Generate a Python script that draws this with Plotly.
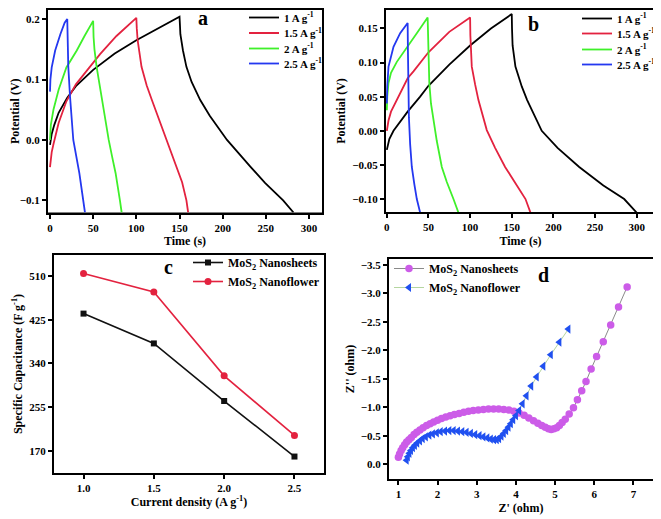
import plotly.graph_objects as go

# The page body has an 8px margin, so the figure is drawn 8px smaller and
# reference pixel positions are shifted by 8px.
OFF = 8
W, H = 661 - OFF, 519 - OFF

# ---------------- Panel a data (GCD) ----------------
a_t_1 = [0, 2, 5, 10, 20, 30, 50, 75, 100, 125, 150, 150.5, 151, 154, 158, 164, 174, 185, 205, 232, 249, 270, 282]
a_v_1 = [-0.008, 0.01, 0.025, 0.045, 0.07, 0.089, 0.116, 0.143, 0.165, 0.185, 0.204, 0.19, 0.175, 0.148, 0.121, 0.096, 0.066, 0.04, 0.0, -0.044, -0.071, -0.1, -0.12]
a_t_15 = [0, 2, 4, 10, 19, 30, 39, 50, 58, 77, 100, 100.5, 101.5, 106, 112, 118, 126, 135, 147, 153, 158, 160]
a_v_15 = [-0.045, -0.02, -0.007, 0.028, 0.064, 0.092, 0.108, 0.128, 0.142, 0.172, 0.202, 0.185, 0.165, 0.121, 0.09, 0.066, 0.035, 0.0, -0.044, -0.07, -0.1, -0.12]
a_t_2 = [0, 1, 4, 10, 19, 31, 40, 50, 50.5, 51.5, 54, 60, 64, 68, 72, 76, 81, 83]
a_v_2 = [0.0, 0.025, 0.05, 0.083, 0.12, 0.148, 0.172, 0.197, 0.17, 0.15, 0.121, 0.066, 0.032, 0.0, -0.028, -0.055, -0.1, -0.12]
a_t_25 = [0, 0.5, 2, 6, 12, 17, 20, 20.5, 21.2, 23.2, 27, 34, 38.6, 40.5]
a_v_25 = [0.08, 0.1, 0.12, 0.148, 0.175, 0.194, 0.2, 0.16, 0.121, 0.072, 0.0, -0.055, -0.1, -0.12]

# ---------------- Panel b data ----------------
b_t_1 = [0, 3, 8, 15, 25, 40, 50, 75, 100, 125, 150, 150.3, 151, 154.4, 162, 168.5, 178, 186, 205, 231, 260, 285, 300]
b_v_1 = [-0.028, -0.012, 0.0, 0.012, 0.028, 0.05, 0.066, 0.097, 0.125, 0.15, 0.171, 0.15, 0.125, 0.094, 0.065, 0.045, 0.02, 0.0, -0.025, -0.053, -0.08, -0.1, -0.12]
b_t_15 = [0, 2, 5, 12, 25, 32, 50, 75, 100, 100.3, 101, 102, 106, 110, 120, 130, 142, 155, 166.5, 172.5]
b_v_15 = [0.0, 0.015, 0.028, 0.045, 0.077, 0.087, 0.115, 0.145, 0.166, 0.14, 0.118, 0.094, 0.068, 0.045, 0.001, -0.025, -0.053, -0.078, -0.1, -0.12]
b_t_2 = [0, 0.5, 2, 5, 12, 25, 36, 49, 49.3, 50, 51, 53, 56, 60, 66, 72, 80, 86]
b_v_2 = [0.03, 0.05, 0.07, 0.085, 0.101, 0.123, 0.143, 0.166, 0.14, 0.1, 0.07, 0.04, 0.015, -0.015, -0.053, -0.075, -0.1, -0.12]
b_t_25 = [0, 0.5, 2, 8, 16, 25, 25.3, 25.8, 26.5, 28, 30, 33, 36, 40]
b_v_25 = [0.04, 0.065, 0.094, 0.123, 0.143, 0.158, 0.12, 0.06, 0.02, -0.02, -0.053, -0.078, -0.1, -0.12]

gcd_names = ["1 A g<sup>-1</sup>", "1.5 A g<sup>-1</sup>", "2 A g<sup>-1</sup>", "2.5 A g<sup>-1</sup>"]
gcd_colors = ["#000000", "#e3223f", "#3ff02a", "#2438f0"]

# ---------------- Panel c data ----------------
c_current = [1.0, 1.5, 2.0, 2.5]
c_sheets = [437, 379, 267, 159]
c_flower = [515, 479, 316, 200]

# ---------------- Panel d data (Nyquist) ----------------
d_sheets_x = [1.00, 1.03, 1.07, 1.11, 1.16, 1.21, 1.27, 1.33, 1.40, 1.47, 1.55, 1.63, 1.72, 1.81, 1.90,
              2.00, 2.10, 2.21, 2.32, 2.43, 2.55, 2.67, 2.79, 2.91, 3.04, 3.17, 3.30, 3.43, 3.56, 3.69,
              3.82, 3.95, 4.08, 4.21, 4.33, 4.45, 4.56, 4.66, 4.75, 4.83, 4.90, 4.97, 5.04, 5.11, 5.18,
              5.26, 5.36, 5.47, 5.57, 5.68, 5.79, 5.92, 6.06, 6.23, 6.42, 6.62, 6.84]
d_sheets_y = [-0.12, -0.18, -0.24, -0.29, -0.34, -0.39, -0.43, -0.47, -0.52, -0.56, -0.60, -0.64, -0.68, -0.71, -0.74,
              -0.77, -0.80, -0.83, -0.85, -0.87, -0.89, -0.91, -0.93, -0.94, -0.95, -0.96, -0.97, -0.97, -0.97, -0.96,
              -0.95, -0.93, -0.90, -0.86, -0.81, -0.76, -0.72, -0.68, -0.65, -0.62, -0.61, -0.62, -0.64, -0.68, -0.73,
              -0.79, -0.88, -0.99, -1.13, -1.29, -1.45, -1.67, -1.89, -2.15, -2.44, -2.76, -3.11]
d_flower_x = [1.21, 1.24, 1.28, 1.32, 1.37, 1.42, 1.48, 1.55, 1.62, 1.70, 1.79, 1.88, 1.98, 2.08, 2.19,
              2.30, 2.41, 2.52, 2.63, 2.74, 2.85, 2.96, 3.07, 3.17, 3.27, 3.36, 3.44, 3.51, 3.57, 3.63,
              3.69, 3.75, 3.81, 3.87, 3.93, 4.00, 4.08, 4.17, 4.27, 4.39, 4.53, 4.70, 4.89, 5.11, 5.34]
d_flower_y = [-0.07, -0.13, -0.19, -0.24, -0.29, -0.33, -0.37, -0.41, -0.45, -0.48, -0.51, -0.53, -0.55, -0.57, -0.58,
              -0.59, -0.59, -0.58, -0.57, -0.56, -0.54, -0.52, -0.50, -0.48, -0.46, -0.44, -0.43, -0.43, -0.45, -0.49,
              -0.54, -0.59, -0.65, -0.71, -0.78, -0.85, -0.94, -1.06, -1.20, -1.37, -1.53, -1.72, -1.92, -2.14, -2.37]

# axis ranges per panel
rng = {
    "a": ([-2.3, 315], [-0.12, 0.2175]),
    "b": ([-1, 322], [-0.119, 0.179]),
    "c": ([0.79, 2.71], [127, 551]),
    "d": ([0.76, 7.5], [0.26, -3.6]),
}

FONT = "Liberation Serif"


def px_x(p):
    return min(1.0, max(0.0, (p - OFF) / W))


def px_y(p):
    return min(1.0, max(0.0, 1 - (p - OFF) / H))


def lg_y(p):
    return 1 - (p - OFF) / H


fig = go.Figure()

a_legends = ["legend", "legend2", "legend3", "legend4"]
b_legends = ["legend5", "legend6", "legend7", "legend8"]

for i, (t, v) in enumerate([(a_t_1, a_v_1), (a_t_15, a_v_15), (a_t_2, a_v_2), (a_t_25, a_v_25)]):
    fig.add_trace(go.Scatter(x=t, y=v, mode="lines", name=gcd_names[i], line=dict(color=gcd_colors[i], width=1.8),
                             xaxis="x", yaxis="y", legend=a_legends[i]))
for i, (t, v) in enumerate([(b_t_1, b_v_1), (b_t_15, b_v_15), (b_t_2, b_v_2), (b_t_25, b_v_25)]):
    fig.add_trace(go.Scatter(x=t, y=v, mode="lines", name=gcd_names[i], line=dict(color=gcd_colors[i], width=1.8),
                             xaxis="x2", yaxis="y2", legend=b_legends[i]))

fig.add_trace(go.Scatter(x=c_current, y=c_sheets, mode="lines+markers", name="MoS<sub>2</sub> Nanosheets",
                         line=dict(color="#111111", width=1.6), marker=dict(symbol="square", size=6, color="#111111"),
                         xaxis="x3", yaxis="y3", legend="legend9"))
fig.add_trace(go.Scatter(x=c_current, y=c_flower, mode="lines+markers", name="MoS<sub>2</sub> Nanoflower",
                         line=dict(color="#e3223f", width=1.6), marker=dict(symbol="circle", size=7, color="#e3223f"),
                         xaxis="x3", yaxis="y3", legend="legend9"))

fig.add_trace(go.Scatter(x=d_sheets_x, y=d_sheets_y, mode="lines+markers", name="MoS<sub>2</sub> Nanosheets",
                         line=dict(color="#8a8a8a", width=1), marker=dict(symbol="circle", size=7.5, color="#cc5ce8"),
                         xaxis="x4", yaxis="y4", legend="legend10"))
fig.add_trace(go.Scatter(x=d_flower_x, y=d_flower_y, mode="lines+markers", name="MoS<sub>2</sub> Nanoflower",
                         line=dict(color="#b5d6a0", width=1), marker=dict(symbol="triangle-left", size=8, color="#2050f0"),
                         xaxis="x4", yaxis="y4", legend="legend10"))

tickfont = dict(family=FONT, size=11, color="black", weight="bold")
titlefont = dict(family=FONT, size=12, color="black", weight="bold")


def axis(domain, r, title, dtick=None, tickvals=None, fmt=None, anchor=None):
    d = dict(domain=domain, range=r, showgrid=False, zeroline=False, showline=True, mirror=True,
             linecolor="black", linewidth=2, ticks="outside", ticklen=4, tickwidth=2, tickcolor="black",
             tickfont=tickfont, title=dict(text=title, font=titlefont, standoff=4), anchor=anchor,
             automargin=False)
    if dtick is not None:
        d["dtick"] = dtick
        d["tick0"] = 0
    if tickvals is not None:
        d["tickvals"] = tickvals
    if fmt:
        d["tickformat"] = fmt
    return d


dom = {
    "a": ([px_x(48), px_x(322)], [px_y(212.5), px_y(10)]),
    "b": ([px_x(386), px_x(655)], [px_y(212), px_y(10)]),
    "c": ([px_x(54), px_x(324)], [px_y(473), px_y(255)]),
    "d": ([px_x(389), px_x(653)], [px_y(479), px_y(259)]),
}

layout = dict(
    width=W, height=H, margin=dict(l=0, r=0, t=0, b=0, autoexpand=False),
    paper_bgcolor="white", plot_bgcolor="white",
    xaxis=axis(dom["a"][0], rng["a"][0], "Time (s)", dtick=50, anchor="y"),
    yaxis=axis(dom["a"][1], [-0.12, 0.215], "Potential (V)", tickvals=[-0.1, 0.0, 0.1, 0.2], fmt=".1f", anchor="x"),
    xaxis2=axis(dom["b"][0], rng["b"][0], "Time (s)", dtick=50, anchor="y2"),
    yaxis2=axis(dom["b"][1], [-0.119, 0.177], "Potential (V)", tickvals=[-0.10, -0.05, 0.0, 0.05, 0.10, 0.15], fmt=".2f", anchor="x2"),
    xaxis3=axis(dom["c"][0], rng["c"][0], "Current density (A g<sup>-1</sup>)", tickvals=c_current, fmt=".1f", anchor="y3"),
    yaxis3=axis(dom["c"][1], rng["c"][1], "Specific Capacitance (F g<sup>-1</sup>)", tickvals=[170, 255, 340, 425, 510], anchor="x3"),
    xaxis4=axis(dom["d"][0], rng["d"][0], "Z' (ohm)", tickvals=[1, 2, 3, 4, 5, 6, 7], anchor="y4"),
    yaxis4=axis(dom["d"][1], rng["d"][1], "Z'' (ohm)", tickvals=[0, -0.5, -1.0, -1.5, -2.0, -2.5, -3.0, -3.5], fmt=".1f", anchor="x4"),
    showlegend=True,
)

leg_common = dict(bgcolor="rgba(0,0,0,0)", borderwidth=0, xanchor="left", yanchor="top",
                  itemwidth=30, tracegroupgap=0)
legfont_ab = dict(family=FONT, size=11, color="black", weight="bold")
legfont_cd = dict(family=FONT, size=12, color="black", weight="bold")

a_tops = [3, 18.5, 34, 49]
b_tops = [4, 19, 35, 50]
for name, top in zip(a_legends, a_tops):
    layout[name] = dict(leg_common, x=px_x(244), y=lg_y(top), font=legfont_ab)
for name, top in zip(b_legends, b_tops):
    layout[name] = dict(leg_common, x=px_x(577), y=lg_y(top), font=legfont_ab)
layout["legend9"] = dict(leg_common, x=px_x(188), y=lg_y(248), font=legfont_cd)
layout["legend10"] = dict(leg_common, x=px_x(389), y=lg_y(254), font=legfont_cd)

fig.update_layout(**layout)

# Panel frames as filled bands: a black rectangle 2px larger than each plot area,
# with a white rectangle on the plot area itself (both beneath the traces).
BAND = 2.0
for key in ["a", "b", "c", "d"]:
    (x0, x1), (y0, y1) = dom[key]
    dx, dy = BAND / W, BAND / H
    fig.add_shape(type="rect", xref="paper", yref="paper", x0=x0 - dx, x1=x1 + dx, y0=y0 - dy, y1=y1 + dy,
                  line=dict(width=0), fillcolor="black", layer="below")
    fig.add_shape(type="rect", xref="paper", yref="paper", x0=x0, x1=x1, y0=y0, y1=y1,
                  line=dict(width=0), fillcolor="white", layer="below")

labels = [("a", 203, 18), ("b", 533, 24), ("c", 168, 267), ("d", 543, 275)]
for txt, x, y in labels:
    fig.add_annotation(text=txt, x=px_x(x), y=lg_y(y), xref="paper", yref="paper", showarrow=False,
                       font=dict(family=FONT, size=20, color="black", weight="bold"), xanchor="center", yanchor="middle")

fig.write_html("out.html")
